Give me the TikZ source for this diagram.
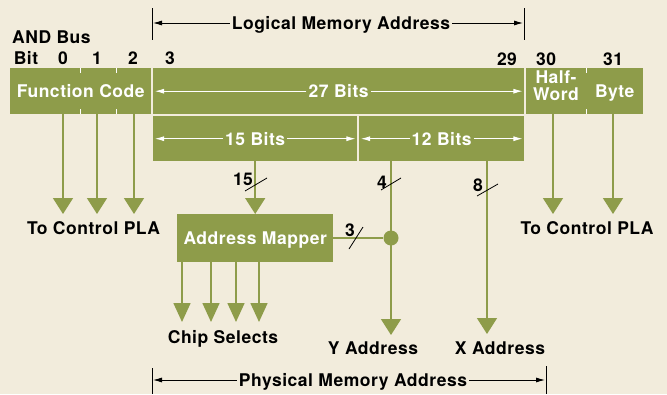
\documentclass[tikz,border=0pt]{standalone}
\usepackage{fontspec}
\setmainfont{TeX Gyre Heros}[LetterSpace=3]
\usetikzlibrary{arrows.meta}
\definecolor{paper}{RGB}{242,236,220}
\definecolor{olive}{RGB}{142,156,74}
\begin{document}
\begin{tikzpicture}[x=1pt,y=-1pt,
  lab/.style={font=\fontsize{17.5}{17}\selectfont\bfseries, text=black, inner xsep=2pt, inner ysep=0pt, text depth=0pt},
  wlab/.style={lab, text=white},
  blk/.style={fill=olive, draw=none, inner sep=0pt, anchor=north west, font=\fontsize{17.5}{17}\selectfont\bfseries, text=white, text depth=0pt},
  gline/.style={draw=olive, line width=1.6pt},
  garrowA/.style={gline, -{Triangle[width=20pt,length=16pt]}},
  garrowB/.style={gline, -{Triangle[width=20pt,length=16pt]}},
  garrowC/.style={gline, -{Triangle[width=20pt,length=16pt]}},
  garrowD/.style={gline, -{Triangle[width=17pt,length=19pt]}},
  dim/.style={draw=black, line width=0.8pt, -{Latex[length=9pt,width=5pt]}},
  wdim/.style={draw=white, line width=0.8pt, -{Latex[length=9pt,width=5pt]}},
  tick/.style={draw=black, line width=1pt},
  wtick/.style={draw=white, line width=0.8pt},
  slash/.style={draw=black, line width=0.8pt},
  gdot/.style={circle, fill=olive, minimum size=15pt, inner sep=0pt}
]
\path[fill=paper] (0,0) rectangle (667,394);
\useasboundingbox (0,0) rectangle (667,394);

% Logical memory address
\coordinate (lt1a) at (152,8); \coordinate (lt1b) at (152,40);
\coordinate (lt2a) at (524,8); \coordinate (lt2b) at (524,40);
\draw[tick] (lt1a) -- (lt1b);
\draw[tick] (lt2a) -- (lt2b);
\node[lab] (lma) at (341,23) {Logical Memory Address};
\draw[dim] (lma.west) -- ([xshift=1pt]lt1a |- lma.west);
\draw[dim] (lma.east) -- ([xshift=-1pt]lt2a |- lma.east);

% bus labels
\node[lab, anchor=west] (andbus) at (10,37.5) {AND Bus};
\node[lab] (bit) at (26,58) {Bit};
\node[lab] (b0) at (63,58) {0};
\node[lab] (b1) at (97,58) {1};
\node[lab] (b2) at (133,58) {2};
\node[lab] (b3) at (170,58) {3};
\node[lab] (b29) at (507,59.5) {29};
\node[lab] (b30) at (546,59.5) {30};
\node[lab] (b31) at (613,59.5) {31};

% bars
\node[blk, minimum width=141pt, minimum height=46pt] (fc) at (10,68) {Function Code};
\node[blk, minimum width=371pt, minimum height=46pt] (b27) at (153,68) {};
\node[blk, minimum width=60pt, minimum height=46pt] (hw) at (526,68) {};
\node[blk, minimum width=57pt, minimum height=46pt] (by) at (586,68) {Byte};
\node[blk, minimum width=204pt, minimum height=45pt] (b15) at (153,116) {};
\node[blk, minimum width=165pt, minimum height=45pt] (b12) at (359,116) {};

\node[wlab, align=center] (hwt) at (556,86) {Half-\\Word};

\draw[wtick] ([xshift=70pt]fc.north west) -- ++(0,5);
\draw[wtick] ([xshift=106pt]fc.north west) -- ++(0,5);
\draw[wtick] ([xshift=70pt]fc.south west) -- ++(0,-5);
\draw[wtick] ([xshift=106pt]fc.south west) -- ++(0,-5);
\draw[wtick] (by.north west) -- ++(0,5);
\draw[wtick] (by.south west) -- ++(0,-5);

\node[wlab] (t27) at (b27.center) {27 Bits};
\draw[wdim] (t27.west) -- ([xshift=2pt]b27.west |- t27.west);
\draw[wdim] (t27.east) -- ([xshift=-2pt]b27.east |- t27.east);
\node[wlab] (t15) at (b15.center) {15 Bits};
\draw[wdim] (t15.west) -- ([xshift=2pt]b15.west |- t15.west);
\draw[wdim] (t15.east) -- ([xshift=-2pt]b15.east |- t15.east);
\node[wlab] (t12) at (b12.center) {12 Bits};
\draw[wdim] (t12.west) -- ([xshift=2pt]b12.west |- t12.west);
\draw[wdim] (t12.east) -- ([xshift=-2pt]b12.east |- t12.east);

% to control PLA
\coordinate (p0) at (63,214);
\coordinate (p1) at (97,214);
\coordinate (p2) at (134,214);
\coordinate (p3) at (553,214);
\coordinate (p4) at (613,214);
\draw[garrowA] (p0 |- fc.south) -- (p0);
\draw[garrowA] (p1 |- fc.south) -- (p1);
\draw[garrowA] (p2 |- fc.south) -- (p2);
\draw[garrowA] (p3 |- hw.south) -- (p3);
\draw[garrowA] (p4 |- by.south) -- (p4);
\node[lab] (plaL) at (93.5,228.5) {To Control PLA};
\node[lab] (plaR) at (587,228.5) {To Control PLA};

% address mapper
\node[blk, minimum width=156pt, minimum height=48pt] (map) at (177,214) {Address Mapper};
\draw[garrowB] (b15.south) -- (map.north);
\draw[slash] (245,191) -- (267,178);
\node[lab] (n15) at (243,179) {15};

\node[gdot] (dot) at (391,238) {};
\draw[gline] (map.east |- dot) -- (dot);
\draw[slash] (349,249) -- (363,227);
\node[lab] (n3) at (350,230.5) {3};

\coordinate (ya) at (391,335);
\coordinate (xa) at (487,334);
\draw[garrowC] (b12.south -| ya) -- (ya);
\draw[garrowC] (b12.south -| xa) -- (xa);
\draw[slash] (381,190) -- (401,178);
\node[lab] (n4) at (382,182) {4};
\draw[slash] (477,196) -- (498,184);
\node[lab] (n8) at (478,185) {8};

\coordinate (cs1) at (182,322);
\coordinate (cs2) at (211,322);
\coordinate (cs3) at (236,322);
\coordinate (cs4) at (259,322);
\draw[garrowD] (map.south -| cs1) -- (cs1);
\draw[garrowD] (map.south -| cs2) -- (cs2);
\draw[garrowD] (map.south -| cs3) -- (cs3);
\draw[garrowD] (map.south -| cs4) -- (cs4);
\node[lab] (chip) at (223,336.5) {Chip Selects};
\node[lab] (yad) at (373,348.5) {Y Address};
\node[lab] (xad) at (500,348.5) {X Address};

% physical memory address
\coordinate (pt1a) at (152,368); \coordinate (pt1b) at (152,394);
\coordinate (pt2a) at (546,366); \coordinate (pt2b) at (546,394);
\draw[tick] (pt1a) -- (pt1b);
\draw[tick] (pt2a) -- (pt2b);
\node[lab] (pma) at (353,380) {Physical Memory Address};
\draw[dim] (pma.west) -- ([xshift=1pt]pt1a |- pma.west);
\draw[dim] (pma.east) -- ([xshift=-1pt]pt2a |- pma.east);
\end{tikzpicture}
\end{document}
